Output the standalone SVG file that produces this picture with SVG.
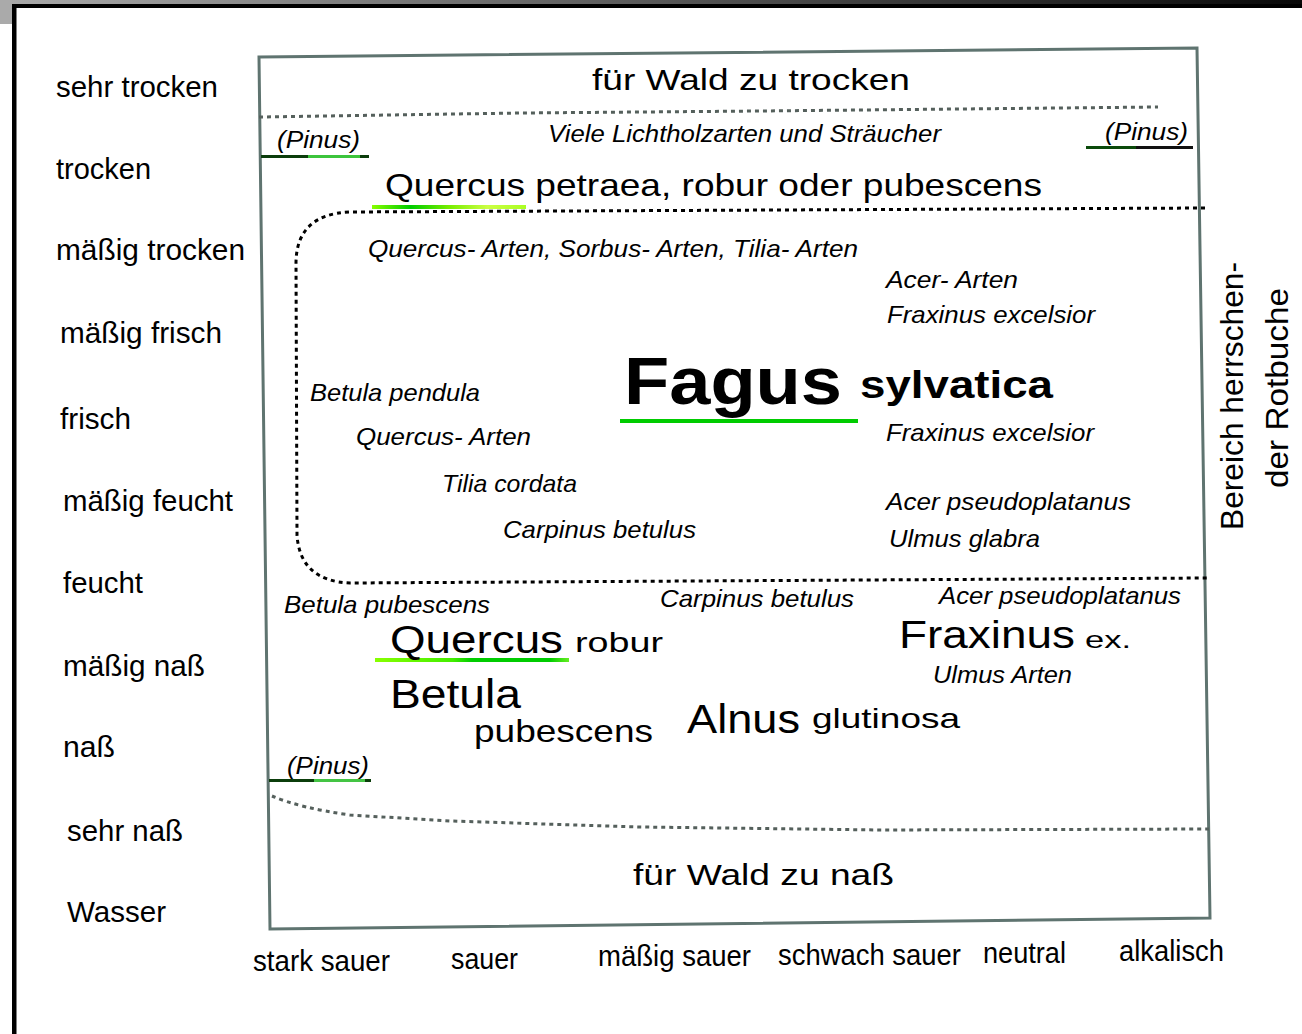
<svg xmlns="http://www.w3.org/2000/svg" width="1302" height="1034" viewBox="0 0 1302 1034">
<defs>
<style>
text{font-family:"Liberation Sans",Arial,sans-serif;fill:#000}
.ax{font-size:30px}
.it{font-style:italic;font-size:24px}
.big{font-size:38px}
.frame{fill:none;stroke:#5f7470;stroke-width:3}
.dash{fill:none;stroke:#000;stroke-width:3;stroke-dasharray:4 4}
.dot{fill:none;stroke:#55605c;stroke-width:3;stroke-dasharray:4 4}
</style>
<linearGradient id="topband" x1="0" y1="0" x2="1" y2="0">
<stop offset="0" stop-color="#aaaaaa"/><stop offset="1" stop-color="#080808"/>
</linearGradient>
<linearGradient id="gQp" x1="372" y1="0" x2="526" y2="0" gradientUnits="userSpaceOnUse">
<stop offset="0" stop-color="#88ff00"/><stop offset="0.25" stop-color="#00cc00"/><stop offset="0.5" stop-color="#77ee00"/><stop offset="0.75" stop-color="#ccff44"/><stop offset="1" stop-color="#aaff22"/>
</linearGradient>
<linearGradient id="gQr" x1="375" y1="0" x2="569" y2="0" gradientUnits="userSpaceOnUse">
<stop offset="0" stop-color="#88ff00"/><stop offset="0.4" stop-color="#44ee00"/><stop offset="0.5" stop-color="#00cc00"/><stop offset="0.9" stop-color="#00cc00"/><stop offset="1" stop-color="#66ee22"/>
</linearGradient>
</defs>

<rect width="1302" height="1034" fill="#ffffff"/>
<g id="border">
<rect x="0" y="0" width="1302" height="4" fill="url(#topband)"/>
<rect x="0" y="0" width="12" height="24" fill="#aaaaaa"/>
<rect x="12" y="4" width="1290" height="4" fill="#000"/>
<rect x="12" y="4" width="4.5" height="1030" fill="#000"/>
</g>

<g id="frame">
<polygon class="frame" points="259,57 1197,48 1210,918 270,929"/>
</g>

<g id="connectors">
<path class="dot" d="M259 117 L 520 113 L 760 111 L 1158 107"/>
<path class="dash" d="M1205 208 L 350 212 Q 297 214 296 262 L 297 535 Q 300 581 350 583 L 1208 578"/>
<path class="dot" d="M272 796 Q 300 808 350 815 L 450 821 L 640 827 L 880 830 L 1209 829"/>
</g>

<g id="underlines">
<rect x="261" y="155" width="47" height="3" fill="#0b3d0b"/>
<rect x="308" y="155" width="52" height="3" fill="#3cc43c"/>
<rect x="360" y="155" width="9" height="3" fill="#0b3d0b"/>
<rect x="1086" y="146" width="50" height="3" fill="#0b4a0b"/>
<rect x="1136" y="146" width="57" height="3" fill="#111"/>
<rect x="372" y="205" width="154" height="4" fill="url(#gQp)"/>
<rect x="620" y="419" width="238" height="4" fill="#00cc00"/>
<rect x="375" y="658" width="194" height="4" fill="url(#gQr)"/>
<rect x="269" y="779" width="45" height="3" fill="#0b3d0b"/>
<rect x="314" y="779" width="51" height="3" fill="#44c444"/>
<rect x="365" y="779" width="6" height="3" fill="#0b3d0b"/>
</g>

<g id="axis-moisture">
<text class="ax" x="56" y="97" textLength="162" lengthAdjust="spacingAndGlyphs">sehr trocken</text>
<text class="ax" x="56" y="179" textLength="95" lengthAdjust="spacingAndGlyphs">trocken</text>
<text class="ax" x="56" y="260" textLength="189" lengthAdjust="spacingAndGlyphs">mäßig trocken</text>
<text class="ax" x="60" y="343" textLength="162" lengthAdjust="spacingAndGlyphs">mäßig frisch</text>
<text class="ax" x="60" y="429" textLength="71" lengthAdjust="spacingAndGlyphs">frisch</text>
<text class="ax" x="63" y="511" textLength="170" lengthAdjust="spacingAndGlyphs">mäßig feucht</text>
<text class="ax" x="63" y="593" textLength="80" lengthAdjust="spacingAndGlyphs">feucht</text>
<text class="ax" x="63" y="676" textLength="142" lengthAdjust="spacingAndGlyphs">mäßig naß</text>
<text class="ax" x="63" y="757" textLength="52" lengthAdjust="spacingAndGlyphs">naß</text>
<text class="ax" x="67" y="841" textLength="116" lengthAdjust="spacingAndGlyphs">sehr naß</text>
<text class="ax" x="67" y="922" textLength="99" lengthAdjust="spacingAndGlyphs">Wasser</text>
</g>

<g id="axis-acidity">
<text class="ax" x="253" y="971" textLength="137" lengthAdjust="spacingAndGlyphs">stark sauer</text>
<text class="ax" x="451" y="969" textLength="67" lengthAdjust="spacingAndGlyphs">sauer</text>
<text class="ax" x="598" y="966" textLength="153" lengthAdjust="spacingAndGlyphs">mäßig sauer</text>
<text class="ax" x="778" y="965" textLength="183" lengthAdjust="spacingAndGlyphs">schwach sauer</text>
<text class="ax" x="983" y="963" textLength="83" lengthAdjust="spacingAndGlyphs">neutral</text>
<text class="ax" x="1119" y="961" textLength="105" lengthAdjust="spacingAndGlyphs">alkalisch</text>
</g>

<g id="zone-dry">
<text class="ax" x="592" y="90" textLength="318" lengthAdjust="spacingAndGlyphs">für Wald zu trocken</text>
<text class="it" x="548" y="142" textLength="393" lengthAdjust="spacingAndGlyphs">Viele Lichtholzarten und Sträucher</text>
<text class="it" x="277" y="148" textLength="83" lengthAdjust="spacingAndGlyphs">(Pinus)</text>
<text class="it" x="1105" y="140" textLength="83" lengthAdjust="spacingAndGlyphs">(Pinus)</text>
<text x="385" y="196" font-size="32" textLength="657" lengthAdjust="spacingAndGlyphs">Quercus petraea, robur oder pubescens</text>
</g>

<g id="zone-fagus">
<text class="it" x="368" y="257" font-size="26" textLength="490" lengthAdjust="spacingAndGlyphs">Quercus- Arten, Sorbus- Arten, Tilia- Arten</text>
<text class="it" x="886" y="288" textLength="132" lengthAdjust="spacingAndGlyphs">Acer- Arten</text>
<text class="it" x="887" y="323" textLength="208" lengthAdjust="spacingAndGlyphs">Fraxinus excelsior</text>
<text x="624" y="404" font-size="66" font-weight="bold" textLength="218" lengthAdjust="spacingAndGlyphs">Fagus</text>
<text x="860" y="398" font-size="38" font-weight="bold" textLength="193" lengthAdjust="spacingAndGlyphs">sylvatica</text>
<text class="it" x="310" y="401" textLength="170" lengthAdjust="spacingAndGlyphs">Betula pendula</text>
<text class="it" x="356" y="445" textLength="175" lengthAdjust="spacingAndGlyphs">Quercus- Arten</text>
<text class="it" x="442" y="492" textLength="135" lengthAdjust="spacingAndGlyphs">Tilia cordata</text>
<text class="it" x="503" y="538" textLength="193" lengthAdjust="spacingAndGlyphs">Carpinus betulus</text>
<text class="it" x="886" y="441" textLength="208" lengthAdjust="spacingAndGlyphs">Fraxinus excelsior</text>
<text class="it" x="886" y="510" textLength="245" lengthAdjust="spacingAndGlyphs">Acer pseudoplatanus</text>
<text class="it" x="889" y="547" textLength="151" lengthAdjust="spacingAndGlyphs">Ulmus glabra</text>
</g>

<g id="zone-wet">
<text class="it" x="284" y="613" textLength="206" lengthAdjust="spacingAndGlyphs">Betula pubescens</text>
<text class="it" x="660" y="607" textLength="194" lengthAdjust="spacingAndGlyphs">Carpinus betulus</text>
<text class="it" x="939" y="604" textLength="242" lengthAdjust="spacingAndGlyphs">Acer pseudoplatanus</text>
<text class="big" x="390" y="653" textLength="173" lengthAdjust="spacingAndGlyphs">Quercus</text>
<text x="575" y="652" font-size="28" textLength="88" lengthAdjust="spacingAndGlyphs">robur</text>
<text class="big" x="899" y="648" textLength="176" lengthAdjust="spacingAndGlyphs">Fraxinus</text>
<text x="1085" y="648" font-size="24" textLength="46" lengthAdjust="spacingAndGlyphs">ex.</text>
<text class="it" x="933" y="683" textLength="139" lengthAdjust="spacingAndGlyphs">Ulmus Arten</text>
<text x="390" y="708" font-size="40" textLength="131" lengthAdjust="spacingAndGlyphs">Betula</text>
<text x="474" y="742" font-size="32" textLength="179" lengthAdjust="spacingAndGlyphs">pubescens</text>
<text x="687" y="733" font-size="40" textLength="113" lengthAdjust="spacingAndGlyphs">Alnus</text>
<text x="812" y="728" font-size="28" textLength="148" lengthAdjust="spacingAndGlyphs">glutinosa</text>
<text class="it" x="287" y="774" textLength="82" lengthAdjust="spacingAndGlyphs">(Pinus)</text>
<text class="ax" x="633" y="885" textLength="261" lengthAdjust="spacingAndGlyphs">für Wald zu naß</text>
</g>

<g id="label-rotbuche">
<text font-size="32" transform="translate(1243,530) rotate(-90)" textLength="268" lengthAdjust="spacingAndGlyphs">Bereich herrschen-</text>
<text font-size="32" transform="translate(1288,488) rotate(-90)" textLength="200" lengthAdjust="spacingAndGlyphs">der Rotbuche</text>
</g>
</svg>
